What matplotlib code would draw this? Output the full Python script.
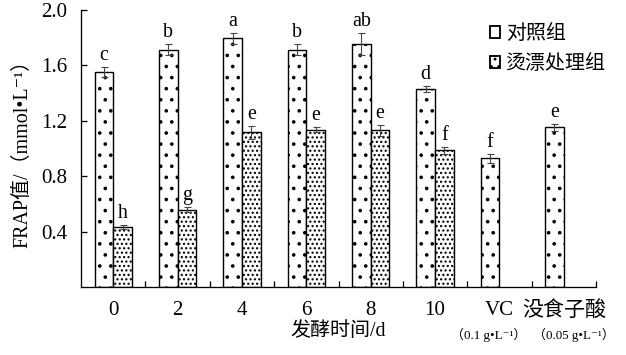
import numpy as np
import matplotlib
matplotlib.use("Agg")
import matplotlib.pyplot as plt
from matplotlib.patches import Patch

DPI = 400 / 3


def px(v):
    # pixel size -> points at this dpi
    return v * 72 / DPI


plt.rcParams['font.family'] = ['Liberation Serif', 'Noto Sans CJK SC', 'DejaVu Serif']
plt.rcParams['hatch.linewidth'] = px(1.4)

# data
categories = ['0', '2', '4', '6', '8', '10', 'VC', '没食子酸']
sub_labels = ['', '', '', '', '', '', '（0.1 g•L⁻¹）', '（0.05 g•L⁻¹）']
ctrl_vals = [1.55, 1.714, 1.796, 1.714, 1.757, 1.431, 0.928, 1.152]
ctrl_err = [0.035, 0.04, 0.04, 0.04, 0.08, 0.02, 0.035, 0.025]
ctrl_sig = ['c', 'b', 'a', 'b', 'ab', 'd', 'f', 'e']
treat_vals = [0.431, 0.559, 1.116, 1.137, 1.133, 0.986]
treat_err = [0.015, 0.02, 0.05, 0.02, 0.04, 0.025]
treat_sig = ['h', 'g', 'e', 'e', 'e', 'f']

fig = plt.figure(figsize=(626 / DPI, 355 / DPI), dpi=DPI)
ax = fig.add_axes([81 / 626, 68 / 355, 515 / 626, 277 / 355])

x = np.arange(len(categories))
w = 0.29
xc = x[:len(ctrl_vals)] - w / 2
xt = x[:len(treat_vals)] + w / 2

ax.bar(xc, ctrl_vals, width=w, color='white', edgecolor='black', linewidth=px(1.4), hatch='..')
ax.bar(xt, treat_vals, width=w, color='white', edgecolor='black', linewidth=px(1.4), hatch='.....')
ax.errorbar(xc, ctrl_vals, yerr=ctrl_err, fmt='none', ecolor='#444444',
            elinewidth=px(1.1), capsize=px(3.5), capthick=px(1.1))
ax.errorbar(xt, treat_vals, yerr=treat_err, fmt='none', ecolor='#444444',
            elinewidth=px(1.1), capsize=px(3.5), capthick=px(1.1))

for xi, v, e, s in zip(xc, ctrl_vals, ctrl_err, ctrl_sig):
    ax.annotate(s, (xi, v + e), xytext=(0, px(2)), textcoords='offset points',
                ha='center', va='bottom', fontsize=px(20))
for xi, v, e, s in zip(xt, treat_vals, treat_err, treat_sig):
    ax.annotate(s, (xi, v + e), xytext=(0, px(2)), textcoords='offset points',
                ha='center', va='bottom', fontsize=px(20))

ax.set_xlim(-0.5, len(categories) - 0.5)
ax.set_ylim(0, 2.0)
ax.set_yticks([0.4, 0.8, 1.2, 1.6, 2.0])
ax.set_yticklabels(['0.4', '0.8', '1.2', '1.6', '2.0'], fontsize=px(21))
ax.tick_params(axis='y', direction='in', length=px(6), width=px(1.3), pad=px(14))

ax.set_xticks(x)
ax.set_xticklabels(categories, fontsize=px(21))
ax.set_xticks(np.arange(len(categories)) + 0.5, minor=True)
ax.tick_params(axis='x', which='major', length=0, pad=px(14))
ax.tick_params(axis='x', which='minor', direction='in', length=px(6), width=px(1.3))

sub_shift = [0, 0, 0, 0, 0, 0, -0.16, 0.16]
for xi, s, d in zip(x, sub_labels, sub_shift):
    if s:
        ax.annotate(s, (xi + d, 0), xytext=(0, -px(48)), textcoords='offset points',
                    ha='center', va='center', fontsize=px(13))

for sp in ['top', 'right']:
    ax.spines[sp].set_visible(False)
ax.spines['left'].set_linewidth(px(1.3))
ax.spines['bottom'].set_linewidth(px(1.3))

ax.set_xlabel('发酵时间/d', fontsize=px(20), labelpad=px(1))
ax.set_ylabel('FRAP值/（mmol•L⁻¹）', fontsize=px(20), labelpad=px(8))

handles = [Patch(facecolor='white', edgecolor='black', hatch='.', label='对照组'),
           Patch(facecolor='white', edgecolor='black', hatch='...', label='烫漂处理组')]
ax.legend(handles=handles, loc='upper right', bbox_to_anchor=(1.035, 0.975), frameon=False,
          fontsize=px(20), handlelength=0.5, handleheight=0.5, handletextpad=0.3,
          labelspacing=0.55, borderaxespad=0)

fig.savefig('out.png', dpi=DPI)
